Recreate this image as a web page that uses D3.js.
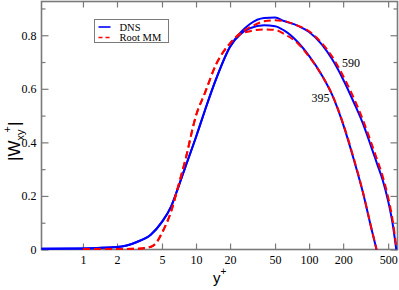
<!DOCTYPE html>
<html>
<head>
<meta charset="utf-8">
<script src="https://d3js.org/d3.v7.min.js"></script>
<style>
  body { margin: 0; background: #fff; }
  svg { display: block; }
</style>
</head>
<body>
<div id="vis"></div>
<script>
// y+ positions and |W_xy+| values
let dns590X = [0.43, 1, 2, 3, 4, 5, 6, 7, 8, 10, 12, 15, 20, 25, 30, 40, 50, 60, 80, 100, 130, 160, 200, 250, 300, 350, 400, 450, 500, 550, 590]
let dns590Y = [0.003, 0.004, 0.009, 0.028, 0.056, 0.103, 0.159, 0.235, 0.305, 0.42, 0.52, 0.635, 0.757, 0.812, 0.842, 0.864, 0.866, 0.853, 0.835, 0.812, 0.765, 0.71, 0.635, 0.547, 0.469, 0.39, 0.319, 0.256, 0.181, 0.092, 0.0]

let dns395X = [0.43, 1, 2, 3, 4, 5, 6, 7, 8, 10, 12, 15, 20, 25, 30, 40, 50, 60, 80, 100, 130, 160, 200, 250, 300, 350, 395]
let dns395Y = [0.003, 0.004, 0.009, 0.028, 0.056, 0.103, 0.159, 0.235, 0.305, 0.42, 0.52, 0.635, 0.757, 0.806, 0.826, 0.837, 0.834, 0.818, 0.773, 0.723, 0.65, 0.577, 0.467, 0.332, 0.211, 0.09, 0.0]

let mm590X = [1, 2, 3, 4, 4.5, 5, 6, 7, 8, 10, 12, 15, 20, 25, 30, 40, 50, 60, 80, 100, 130, 160, 200, 250, 300, 350, 400, 450, 500, 550, 590]
let mm590Y = [0.002, 0.002, 0.003, 0.01, 0.028, 0.062, 0.14, 0.24, 0.33, 0.5, 0.585, 0.69, 0.77, 0.81, 0.83, 0.852, 0.856, 0.853, 0.835, 0.815, 0.77, 0.72, 0.648, 0.563, 0.483, 0.405, 0.335, 0.27, 0.195, 0.105, 0.01]

let mm395X = [1, 2, 3, 4, 4.5, 5, 6, 7, 8, 10, 12, 15, 20, 25, 30, 40, 50, 60, 80, 100, 130, 160, 200, 250, 300, 350, 395]
let mm395Y = [0.002, 0.002, 0.003, 0.01, 0.028, 0.062, 0.14, 0.24, 0.33, 0.5, 0.585, 0.69, 0.77, 0.806, 0.815, 0.822, 0.82, 0.805, 0.768, 0.72, 0.65, 0.578, 0.47, 0.336, 0.213, 0.092, 0.0]

let xTicks = [1, 2, 5, 10, 20, 50, 100, 200, 500]
let yTicks = [0, 0.2, 0.4, 0.6, 0.8]
let yMinor = [0.1, 0.3, 0.5, 0.7, 0.9]

let legendNames = ['DNS', 'Root MM']
let curveLabels = [{text: '395', x: 105, y: 0.55}, {text: '590', x: 195, y: 0.68}]

let width = 399, height = 290
let plotLeft = 41.5, plotRight = 397.5, plotTop = 1.5, plotBottom = 249.5
let serif = '"Liberation Serif", "Times New Roman", serif'
let sans = '"Liberation Sans", Arial, sans-serif'

let svg = d3.select('#vis')
  .append('svg')
  .attr('width', width)
  .attr('height', height)

let xScale = d3.scaleLog()
  .domain([0.43, 605])
  .range([plotLeft, plotRight])

let yScale = d3.scaleLinear()
  .domain([0, 0.926])
  .range([plotBottom, plotTop])

let frameColor = '#7a7a7a'

// axes: ticks point inwards
svg.append('g')
  .attr('transform', `translate(0,${plotBottom})`)
  .call(d3.axisBottom(xScale).tickValues(xTicks).tickFormat(d3.format('d')).tickSize(-6).tickPadding(6))
svg.append('g')
  .attr('transform', `translate(0,${plotTop})`)
  .call(d3.axisTop(xScale).tickValues(xTicks).tickFormat('').tickSize(-6))
svg.append('g')
  .attr('transform', `translate(${plotLeft},0)`)
  .call(d3.axisLeft(yScale).tickValues(yTicks).tickFormat(d => d === 0 ? '0' : d3.format('.1f')(d)).tickSize(-7).tickPadding(5))
svg.append('g')
  .attr('transform', `translate(${plotLeft},0)`)
  .call(d3.axisLeft(yScale).tickValues(yMinor).tickFormat('').tickSize(-4))
svg.append('g')
  .attr('transform', `translate(${plotRight},0)`)
  .call(d3.axisRight(yScale).tickValues(yTicks).tickFormat('').tickSize(-7))
svg.append('g')
  .attr('transform', `translate(${plotRight},0)`)
  .call(d3.axisRight(yScale).tickValues(yMinor).tickFormat('').tickSize(-4))

svg.selectAll('.domain').remove()
svg.selectAll('g')
  .attr('font-family', serif)
  .attr('font-size', 12)
svg.selectAll('.tick line')
  .attr('stroke', frameColor)
  .attr('stroke-width', 1.2)
svg.selectAll('.tick text')
  .style('font-family', serif)
  .style('font-size', '12px')
  .attr('fill', '#000')

svg.append('rect')
  .attr('x', plotLeft)
  .attr('y', plotTop)
  .attr('width', plotRight - plotLeft)
  .attr('height', plotBottom - plotTop)
  .attr('fill', 'none')
  .attr('stroke', frameColor)
  .attr('stroke-width', 1.6)

let line = d3.line()
  .x(d => xScale(d[0]))
  .y(d => yScale(d[1]))
  .curve(d3.curveMonotoneX)

let series = [
  {x: dns590X, y: dns590Y, color: '#0000ff', dash: null},
  {x: dns395X, y: dns395Y, color: '#0000ff', dash: null},
  {x: mm590X, y: mm590Y, color: '#ff0000', dash: '7,4'},
  {x: mm395X, y: mm395Y, color: '#ff0000', dash: '7,4'}
]

svg.selectAll('.curve')
  .data(series)
  .join('path')
  .attr('class', 'curve')
  .attr('d', s => line(s.x.map((v, i) => [v, s.y[i]])))
  .attr('fill', 'none')
  .attr('stroke', s => s.color)
  .attr('stroke-width', 2)
  .attr('stroke-dasharray', s => s.dash)

svg.selectAll('.clabel')
  .data(curveLabels)
  .join('text')
  .attr('class', 'clabel')
  .attr('x', d => xScale(d.x))
  .attr('y', d => yScale(d.y))
  .style('font-family', serif)
  .style('font-size', '12px')
  .text(d => d.text)

// legend
let legend = svg.append('g').attr('transform', 'translate(94.5,19.5)')
legend.append('rect')
  .attr('width', 74)
  .attr('height', 23)
  .attr('fill', '#fff')
  .attr('stroke', frameColor)
  .attr('stroke-width', 1)
legend.selectAll('line')
  .data(legendNames)
  .join('line')
  .attr('x1', 4)
  .attr('x2', 16)
  .attr('y1', (d, i) => 7.5 + i * 10.5)
  .attr('y2', (d, i) => 7.5 + i * 10.5)
  .attr('stroke', (d, i) => i === 0 ? '#0000ff' : '#ff0000')
  .attr('stroke-width', 1.6)
  .attr('stroke-dasharray', (d, i) => i === 0 ? null : '4,3')
legend.selectAll('text')
  .data(legendNames)
  .join('text')
  .attr('x', 25)
  .attr('y', (d, i) => 11 + i * 10.5)
  .style('font-family', serif)
  .style('font-size', '10.5px')
  .text(d => d)

// axis titles
let xt = svg.append('text')
  .attr('x', 213)
  .attr('y', 283)
  .style('font-family', sans)
  .style('font-size', '15px')
xt.append('tspan').text('y')
xt.append('tspan').attr('dy', -8).style('font-size', '10px').text('+')

let yt = svg.append('text')
  .attr('transform', 'translate(20,161) rotate(-90)')
  .style('font-family', sans)
  .style('font-size', '17px')
yt.append('tspan').text('|W')
yt.append('tspan').attr('dy', 4).style('font-size', '11px').text('xy')
yt.append('tspan').attr('dy', -13).attr('dx', -3).style('font-size', '11px').text('+')
yt.append('tspan').attr('dy', 9).text('|')
</script>
</body>
</html>
